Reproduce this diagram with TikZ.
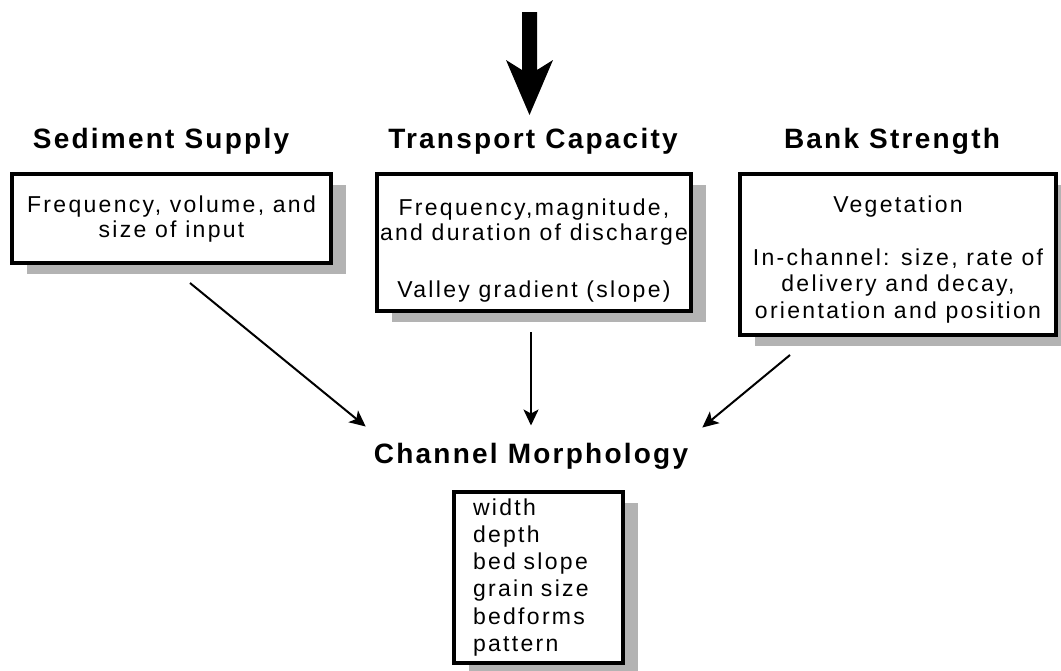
\documentclass[tikz,border=0pt]{standalone}
\usepackage{fontspec}
\setmainfont{Liberation Sans}[LetterSpace=8]
\usetikzlibrary{arrows.meta, positioning, shadows, calc}
\definecolor{shadowgray}{RGB}{179,179,179}

\begin{document}
\begin{tikzpicture}[x=1pt, y=-1pt,
    heading/.style={font=\fontsize{28}{30}\selectfont\bfseries, inner sep=0pt, anchor=base},
    factorbox/.style={draw, line width=4pt, fill=white, align=center, inner sep=0pt,
        font=\fontsize{23}{25}\selectfont\addfontfeatures{LetterSpace=10},
        drop shadow={shadow xshift=15pt, shadow yshift=-11pt, fill=shadowgray, opacity=1}},
    link/.style={line width=2pt, -{Stealth[length=16pt, width=15pt, inset=4pt]}}
]

    % Page
    \useasboundingbox (0,0) rectangle (1061,670);

    % Big arrow at the top
    \fill (522,12) -- (537,12) -- (537,70) -- (553,60) -- (529.5,115) -- (506,60) -- (522,70) -- cycle;

    % Headings
    \node[heading] (supply) at (161,148) {Sediment Supply};
    \node[heading] (capacity) at (533,148) {Transport Capacity};
    \node[heading] (bank) at (892,148) {Bank Strength};
    \node[heading] (morph) at (531,463) {Channel Morphology};

    % Factor boxes (text height/depth taken from the last line)
    \node[factorbox, minimum width=319pt, minimum height=89pt, text height=42pt, text depth=5pt]
        (supplybox) at (171.5,218.5) {Frequency, volume, and\\size of input};
    \node[factorbox, minimum width=314pt, minimum height=137pt, text height=114pt, text depth=5pt]
        (capacitybox) at (534,242.5) {Frequency,magnitude,\\and duration of discharge\\[32pt]Valley gradient (slope)};
    \node[factorbox, minimum width=316pt, minimum height=161pt, text height=132pt, text depth=5pt,
        font=\fontsize{23}{26.5}\selectfont\addfontfeatures{LetterSpace=10}]
        (bankbox) at (898,254.5) {Vegetation\\[26.5pt]In-channel: size, rate of\\delivery and decay,\\orientation and position};

    % Morphology box
    \node[factorbox, align=left, text width=131pt, inner xsep=19pt, minimum width=169pt, minimum height=171pt,
        text height=17pt, text depth=142pt, font=\fontsize{23}{27.3}\selectfont\addfontfeatures{LetterSpace=10}]
        (traits) at (538.5,577.5) {width\\depth\\bed slope\\grain size\\bedforms\\pattern};

    % Links
    \draw[link] ($(supplybox.south)+(18.5,18)$) -- ($(morph.north west)+(-8,-16)$);
    \draw[link] ($(capacitybox.south -| morph.north)+(0,19)$) -- ($(morph.north)+(0,-17)$);
    \draw[link] ($(bankbox.south)+(-108,18)$) -- ($(morph.north east)+(14,-15)$);

\end{tikzpicture}
\end{document}
